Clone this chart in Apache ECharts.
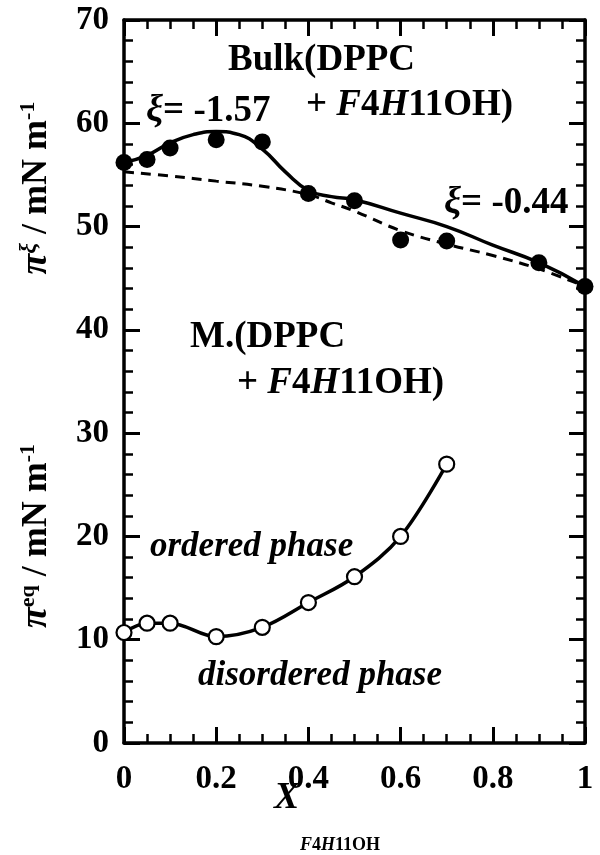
<!DOCTYPE html>
<html><head><meta charset="utf-8">
<script src="https://cdn.jsdelivr.net/npm/echarts@6/dist/echarts.min.js"></script>
<style>html,body{margin:0;padding:0;background:#fff}#c{width:600px;height:855px}</style>
</head><body><div id="c"></div>
<script>
// ---- data ----
const bulkX  = [0, 0.05, 0.1, 0.2, 0.3, 0.4, 0.5, 0.6, 0.7, 0.9, 1.0];
const bulkPi = [56.2, 56.5, 57.6, 58.4, 58.2, 53.2, 52.5, 48.7, 48.6, 46.5, 44.2];

const fitX  = [0, 0.05, 0.1, 0.15, 0.2, 0.25, 0.3, 0.35, 0.4, 0.45, 0.5, 0.6, 0.7, 0.8, 0.9, 1.0];
const fitPi = [56.2, 56.9, 58.1, 58.9, 59.2, 58.9, 57.5, 55.3, 53.5, 52.9, 52.6, 51.3, 50.0, 48.2, 46.5, 44.2];

const idealX  = [0, 0.1, 0.2, 0.3, 0.4, 0.45, 0.5, 0.6, 0.7, 0.8, 0.9, 1.0];
const idealPi = [55.3, 54.9, 54.4, 53.9, 53.1, 52.3, 51.5, 49.6, 48.3, 47.2, 45.9, 44.2];

const eqX  = [0, 0.05, 0.1, 0.2, 0.3, 0.4, 0.5, 0.6, 0.7];
const eqPi = [10.7, 11.6, 11.6, 10.3, 11.2, 13.6, 16.1, 20.0, 27.0];

const xTicks = [0, 0.2, 0.4, 0.6, 0.8, 1];
const yTicks = [0, 10, 20, 30, 40, 50, 60, 70];

const zip = (xs, ys) => xs.map((x, i) => [x, ys[i]]);

const FF = '"Liberation Serif", "Times New Roman", serif';
const tickLbl = {fontFamily: FF, fontWeight: 'bold', fontSize: 33, color: '#000'};
const axLine = {show: true, onZero: false, lineStyle: {color: '#000', width: 3.5}};
const tickS = {show: true, inside: true, length: 16, lineStyle: {color: '#000', width: 3}};
const minorS = (n) => ({show: true, splitNumber: n, length: 9, lineStyle: {color: '#000', width: 2.5}});

const rich = {
  n:  {fontFamily: FF, fontWeight: 'bold', fontSize: 37, color: '#000'},
  i:  {fontFamily: FF, fontWeight: 'bold', fontStyle: 'italic', fontSize: 37, color: '#000'},
  n2: {fontFamily: FF, fontWeight: 'bold', fontSize: 37, color: '#000'},
  i2: {fontFamily: FF, fontWeight: 'bold', fontStyle: 'italic', fontSize: 35, color: '#000'},
  tn: {fontFamily: FF, fontWeight: 'bold', fontSize: 36, color: '#000', lineHeight: 38, verticalAlign: 'bottom'},
  ti: {fontFamily: FF, fontWeight: 'bold', fontStyle: 'italic', fontSize: 38, color: '#000', lineHeight: 38, verticalAlign: 'bottom'},
  sup: {fontFamily: FF, fontWeight: 'bold', fontSize: 22, color: '#000', lineHeight: 38, verticalAlign: 'top'},
  supi: {fontFamily: FF, fontWeight: 'bold', fontStyle: 'italic', fontSize: 24, color: '#000', lineHeight: 38, verticalAlign: 'top'},
  sn: {fontFamily: FF, fontWeight: 'bold', fontSize: 18, color: '#000'},
  si: {fontFamily: FF, fontWeight: 'bold', fontStyle: 'italic', fontSize: 18, color: '#000'},
  xi: {fontFamily: FF, fontWeight: 'bold', fontStyle: 'italic', fontSize: 38, color: '#000'}
};

function txt(x, y, text, rot) {
  return {type: 'text', x: x, y: y, rotation: rot || 0, z: 100,
    style: {text: text, rich: rich, fill: '#000', textAlign: rot ? 'center' : 'left', textVerticalAlign: 'middle'}};
}

const chart = echarts.init(document.getElementById('c'), null, {renderer: 'canvas'});
chart.setOption({
  animation: false,
  backgroundColor: '#fff',
  grid: {left: 124, right: 15, top: 20, bottom: 112, containLabel: false},
  xAxis: [
    {type: 'value', position: 'bottom', min: 0, max: 1, interval: 0.2,
     axisLine: axLine, axisTick: tickS, minorTick: minorS(4), splitLine: {show: false},
     axisLabel: Object.assign({margin: 20, formatter: v => xTicks.includes(+v.toFixed(2)) ? String(+v.toFixed(2)) : ''}, tickLbl)},
    {type: 'value', position: 'top', min: 0, max: 1, interval: 0.2,
     axisLine: axLine, axisTick: tickS, minorTick: minorS(4), splitLine: {show: false},
     axisLabel: {show: false}}
  ],
  yAxis: [
    {type: 'value', position: 'left', min: 0, max: 70, interval: 10,
     axisLine: axLine, axisTick: tickS, minorTick: minorS(5), splitLine: {show: false},
     axisLabel: Object.assign({margin: 15, formatter: v => yTicks.includes(v) ? String(v) : ''}, tickLbl)},
    {type: 'value', position: 'right', min: 0, max: 70, interval: 10,
     axisLine: axLine, axisTick: tickS, minorTick: minorS(5), splitLine: {show: false},
     axisLabel: {show: false}}
  ],
  series: [
    {type: 'line', data: zip(idealX, idealPi), smooth: 0.4, symbol: 'none', clip: false,
     lineStyle: {color: '#000', width: 3, type: [10, 7]}, z: 2},
    {type: 'line', data: zip(fitX, fitPi), smooth: 0.5, symbol: 'none', clip: false,
     lineStyle: {color: '#000', width: 3.5}, z: 3},
    {type: 'scatter', data: zip(bulkX, bulkPi), symbol: 'circle', symbolSize: 17, clip: false,
     itemStyle: {color: '#000', borderWidth: 0, opacity: 1}, z: 5},
    {type: 'line', data: zip(eqX, eqPi), smooth: 0.35, symbol: 'circle', symbolSize: 15, showAllSymbol: true, clip: false,
     lineStyle: {color: '#000', width: 3.5},
     itemStyle: {color: '#fff', borderColor: '#000', borderWidth: 2.2, opacity: 1}, z: 5}
  ],
  graphic: [
    txt(228, 60, '{n|Bulk(DPPC}'),
    txt(306, 105, '{n|+ }{i|F}{n|4}{i|H}{n|11OH)}'),
    txt(146, 111, '{xi|ξ}{n2|= -1.57}'),
    txt(444, 203, '{xi|ξ}{n2|= -0.44}'),
    txt(190, 337, '{n|M.(DPPC}'),
    txt(237, 383, '{n|+ }{i|F}{n|4}{i|H}{n|11OH)}'),
    txt(150, 547, '{i2|ordered phase}'),
    txt(198, 676, '{i2|disordered phase}'),
    txt(274, 798, '{xi|X}'),
    txt(300, 845, '{si|F}{sn|4}{si|H}{sn|11OH}'),
    txt(36, 188, '{ti|π}{supi|ξ}{tn| / mN m}{sup|-1}', Math.PI / 2),
    txt(36, 536, '{ti|π}{sup|eq}{tn| / mN m}{sup|-1}', Math.PI / 2)
  ]
});
</script></body></html>
